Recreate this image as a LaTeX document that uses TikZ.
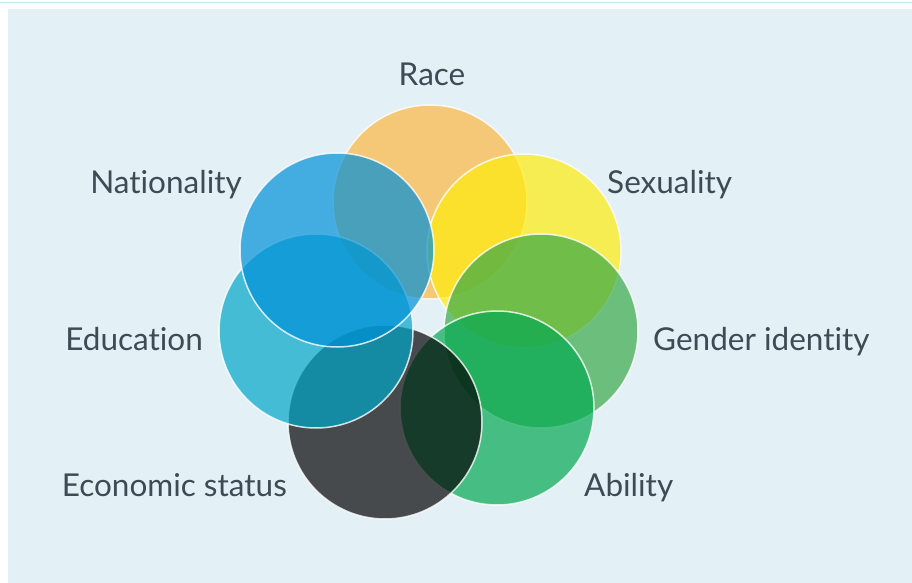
\documentclass[tikz,border=0pt]{standalone}
\usepackage{fontspec}
\setmainfont{Lato}[Ligatures=NoCommon]
\usepackage{tikz}

\definecolor{panel}{HTML}{E3F0F6}
\definecolor{rulecol}{HTML}{C8E6EE}
\definecolor{labeltext}{HTML}{3E4A54}
\definecolor{racecol}{HTML}{FDB842}
\definecolor{sexcol}{HTML}{FEED0C}
\definecolor{gendercol}{HTML}{39AA48}
\definecolor{abilitycol}{HTML}{04A953}
\definecolor{econcol}{HTML}{040405}
\definecolor{educol}{HTML}{01A6C8}
\definecolor{natcol}{HTML}{0090D7}

\tikzset{
  ring/.style={circle, minimum size=194pt, inner sep=0pt, fill=#1,
    fill opacity=0.7, draw=white, draw opacity=0.8, line width=1.5pt},
  tag/.style={text=labeltext, font=\fontsize{31.5}{36}\selectfont, inner sep=0pt}
}

\begin{document}
\begin{tikzpicture}[x=1pt,y=-1pt]
\useasboundingbox (0,0) rectangle (912,583);
\fill[white] (0,0) rectangle (912,583);
\draw[rulecol, line width=1.5pt] (0,2.5) -- (912,2.5);
\fill[panel] (8,9) rectangle (912,583);
% circles, each one drawn over the one before
\foreach \name/\x/\y/\col in {race/430/202/racecol, sexuality/524/251/sexcol,
    gender/541/331/gendercol, ability/497/408/abilitycol, economic/385/422/econcol,
    education/316/331/educol, nationality/337/250/natcol}
    \node[ring=\col] (\name) at (\x,\y) {};
% labels
\node[tag, anchor=base] (racetag) at (432,86) {Race};
\node[tag, anchor=base east] (nattag) at (242,193) {Nationality};
\node[tag, anchor=base west] (sextag) at (607,193) {Sexuality};
\node[tag, anchor=base east] (edutag) at (203,350) {Education};
\node[tag, anchor=base west] (gendertag) at (653,350) {Gender identity};
\node[tag, anchor=base east] (econtag) at (287,496) {Economic status};
\node[tag, anchor=base west] (abilitytag) at (584,496) {Ability};
\end{tikzpicture}
\end{document}
